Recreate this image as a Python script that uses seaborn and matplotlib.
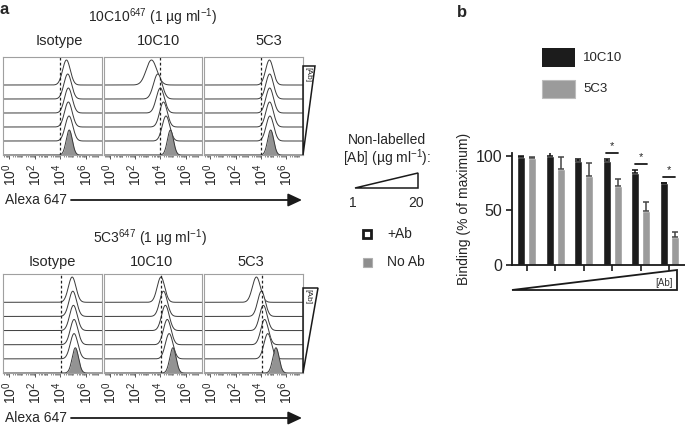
import numpy as np
import pandas as pd
import matplotlib
matplotlib.use('Agg')
import matplotlib.pyplot as plt
import seaborn as sns
from matplotlib.patches import Polygon, Rectangle

sns.set_theme(style='white')
plt.rcParams['font.family'] = ['Liberation Sans', 'DejaVu Sans']
plt.rcParams['mathtext.fontset'] = 'custom'
plt.rcParams['mathtext.rm'] = 'Liberation Sans'
plt.rcParams['mathtext.it'] = 'Liberation Sans:italic'
plt.rcParams['mathtext.bf'] = 'Liberation Sans:bold'

# ---- data ----
columns = ['Isotype', '10C10', '5C3']
titles = ['10C10$^{647}$ (1 µg ml$^{-1}$)', '5C3$^{647}$ (1 µg ml$^{-1}$)']
decade_ticks = [0, 2, 4, 6]
decade_labels = ['$10^0$', '$10^2$', '$10^4$', '$10^6$']

# histogram peak positions (log10 Alexa 647), top = highest [Ab], last = No Ab
iso_top = [4.5, 4.6, 4.65, 4.65, 4.7, 4.72]
c10_top = [3.3, 3.8, 4.0, 4.25, 4.45, 4.8]
c3_top = [4.68, 4.7, 4.7, 4.7, 4.72, 4.78]
iso_bot = [4.95, 5.0, 5.05, 5.1, 5.1, 5.2]
c10_bot = [4.05, 4.25, 4.4, 4.55, 4.7, 5.0]
c3_bot = [3.65, 4.05, 4.2, 4.3, 4.55, 5.2]
# histogram spreads (decades)
iso_top_sd = [0.3, 0.3, 0.3, 0.3, 0.3, 0.24]
c10_top_sd = [0.42, 0.34, 0.32, 0.3, 0.3, 0.24]
c3_top_sd = [0.3, 0.3, 0.3, 0.3, 0.3, 0.24]
iso_bot_sd = [0.3, 0.3, 0.3, 0.3, 0.3, 0.25]
c10_bot_sd = [0.3, 0.3, 0.3, 0.3, 0.3, 0.25]
c3_bot_sd = [0.32, 0.3, 0.3, 0.3, 0.3, 0.25]
gate_top = [4.0, 4.0, 4.0]
gate_bot = [4.1, 4.05, 4.1]

steps = [1, 2, 3, 4, 5, 6]
bind_10c10 = [99.5, 100, 95.5, 95.5, 84.5, 75]
err_10c10 = [0.8, 4, 1.5, 2, 3, 0.6]
bind_5c3 = [98.5, 88, 82, 72, 49.5, 25.5]
err_5c3 = [0.3, 10.7, 11.3, 7, 8.6, 4.6]
sig_steps = [3, 4, 5]
sig_level = [103, 92.5, 80.5]

W, H = 685, 425
fig = plt.figure(figsize=(6.85, 4.25), dpi=100)


def px_axes(x0, y0, x1, y1):
    return fig.add_axes([x0 / W, 1 - y1 / H, (x1 - x0) / W, (y1 - y0) / H])


XMIN, XMAX = -0.5, 7.3
grid = np.linspace(XMIN, XMAX, 500)
offsets = [70, 56, 42, 28, 14, 0]
peak_h = 25


def draw_hist(ax, peaks, sds, gate):
    for i, (pk, sd) in enumerate(zip(peaks, sds)):
        base = offsets[i]
        y = base + peak_h * np.exp(-0.5 * ((grid - pk) / sd) ** 2)
        last = i == len(peaks) - 1
        ax.fill_between(grid, base, y, color='#939393' if last else 'white',
                        lw=0, zorder=2 * i + 1)
        ax.plot(grid, y, color='#3a3a3a', lw=0.7, zorder=2 * i + 2)
    ax.axvline(gate, color='#222222', lw=0.9, ls=(0, (2.2, 1.8)), zorder=30)
    ax.set_xlim(XMIN, XMAX)
    ax.set_ylim(0, 98)
    ax.set_yticks([])
    ax.set_xticks(decade_ticks)
    ax.set_xticklabels(decade_labels, rotation=90, fontsize=10)
    minor = [n + np.log10(k) for n in range(-1, 8) for k in range(1, 10)]
    minor = [m for m in minor if XMIN < m < XMAX and m not in decade_ticks]
    ax.set_xticks(minor, minor=True)
    ax.tick_params(axis='x', which='major', length=3, width=0.7, color='#555555',
                   pad=3, bottom=True)
    ax.tick_params(axis='x', which='minor', length=1.5, width=0.6, color='#777777',
                   bottom=True)
    for s in ax.spines.values():
        s.set_color('#a0a0a0')
        s.set_linewidth(0.8)
        s.set_zorder(40)
    ax.grid(False)


col_x = [(3, 102), (103.5, 202), (204, 302.5)]
top_sets = [(iso_top, iso_top_sd), (c10_top, c10_top_sd), (c3_top, c3_top_sd)]
bot_sets = [(iso_bot, iso_bot_sd), (c10_bot, c10_bot_sd), (c3_bot, c3_bot_sd)]
for j, (x0, x1) in enumerate(col_x):
    ax = px_axes(x0, 57, x1, 155)
    draw_hist(ax, top_sets[j][0], top_sets[j][1], gate_top[j])
    ax = px_axes(x0, 274, x1, 373)
    draw_hist(ax, bot_sets[j][0], bot_sets[j][1], gate_bot[j])

# ---- panel b ----
axb = px_axes(512, 152.7, 685, 265)
df = pd.DataFrame({
    'step': steps * 2,
    'antibody': ['10C10'] * len(steps) + ['5C3'] * len(steps),
    'binding': bind_10c10 + bind_5c3,
})
sns.barplot(data=df, x='step', y='binding', hue='antibody',
            palette=['#1c1c1c', '#9b9b9b'], width=0.78, gap=0.26,
            errorbar=None, legend=False, ax=axb, saturation=1)
bars = axb.patches
xs = [b.get_x() + b.get_width() / 2 for b in bars]
hs = [b.get_height() for b in bars]
n = len(steps)
axb.errorbar(xs[:n], hs[:n], yerr=[np.zeros(n), err_10c10], fmt='none',
             ecolor='#111111', elinewidth=1.1, capsize=2.5, capthick=1.1)
axb.errorbar(xs[n:], hs[n:], yerr=[np.zeros(n), err_5c3], fmt='none',
             ecolor='#444444', elinewidth=1.1, capsize=2.5, capthick=1.1)
for st, lv in zip(sig_steps, sig_level):
    axb.plot([st - 0.21, st + 0.21], [lv, lv], color='k', lw=1.3, clip_on=False)
    axb.text(st, lv + 6.5, '*', ha='center', va='center', fontsize=8, clip_on=False)
axb.set_xlim(-0.52, 5.55)
axb.set_ylim(0, 103)
axb.set_yticks([0, 50, 100])
axb.set_xticks(range(n))
axb.set_xticklabels([''] * n)
axb.set_xlabel('')
axb.set_ylabel('Binding (% of maximum)', fontsize=10, labelpad=3)
axb.tick_params(axis='y', labelsize=11.5, length=4, width=1.2, color='k',
                left=True, pad=3)
axb.tick_params(axis='x', length=4, width=1.2, color='k', bottom=True)
sns.despine(ax=axb)
for s in ['left', 'bottom']:
    axb.spines[s].set_color('k')
    axb.spines[s].set_linewidth(1.3)
axb.grid(False)

# ---- overlay for annotations (pixel coordinates) ----
ov = fig.add_axes([0, 0, 1, 1])
ov.set_xlim(0, W)
ov.set_ylim(H, 0)
ov.axis('off')
ov.patch.set_alpha(0)

ov.text(4, 9, 'a', fontsize=12, fontweight='bold', ha='center', va='center')
ov.text(462, 12, 'b', fontsize=12, fontweight='bold', ha='center', va='center')
ov.text(153, 17, titles[0], fontsize=10, ha='center', va='center')
ov.text(150, 238, titles[1], fontsize=10, ha='center', va='center')
for xc, name in zip([59, 159, 269], columns):
    ov.text(xc, 41, name, fontsize=10.5, ha='center', va='center')
for xc, name in zip([52, 152, 251], columns):
    ov.text(xc, 262, name, fontsize=10.5, ha='center', va='center')

for yy in [200, 418]:
    ov.text(5, yy, 'Alexa 647', fontsize=10, ha='left', va='center')
    ov.annotate('', xy=(302, yy), xytext=(71, yy),
                arrowprops=dict(arrowstyle='-|>,head_length=0.6,head_width=0.28',
                                lw=1.3, color='k', mutation_scale=14,
                                shrinkA=0, shrinkB=0))

# [Ab] triangles next to the histograms
for (ytop, ybot, wd) in [(66, 155, 12), (288, 373, 15)]:
    ov.add_patch(Polygon([(303, ytop), (303 + wd, ytop), (303, ybot)], closed=True,
                         fill=False, ec='k', lw=1.1))
    ov.text(307.5, ytop + 9, '[Ab]', fontsize=6, rotation=-90,
            ha='center', va='center')

# middle legend
ov.text(387, 140, 'Non-labelled', fontsize=10, ha='center', va='center')
ov.text(387, 158, '[Ab] (µg ml$^{-1}$):', fontsize=10, ha='center', va='center')
ov.add_patch(Polygon([(355, 188), (418, 173), (418, 188)], closed=True,
                     fill=False, ec='k', lw=1.1))
ov.text(353, 203, '1', fontsize=10, ha='center', va='center')
ov.text(416, 203, '20', fontsize=10, ha='center', va='center')
ov.add_patch(Rectangle((363.5, 230), 8, 8, fc='white', ec='k', lw=2))
ov.text(387, 234, '+Ab', fontsize=10, ha='left', va='center')
ov.add_patch(Rectangle((363, 258), 9, 9, fc='#8e8e8e', ec='#b0b0b0', lw=0.8))
ov.text(387, 262.5, 'No Ab', fontsize=10, ha='left', va='center')

# panel b legend
ov.add_patch(Rectangle((542, 48), 33, 19, fc='#1c1c1c', ec='none'))
ov.text(583, 57.5, '10C10', fontsize=9.5, ha='left', va='center')
ov.add_patch(Rectangle((542, 80), 33, 18, fc='#9b9b9b', ec='#bdbdbd', lw=0.8))
ov.text(583, 89, '5C3', fontsize=9.5, ha='left', va='center')

# [Ab] triangle under panel b
ov.add_patch(Polygon([(512, 290), (677, 270), (677, 290)], closed=True,
                     fill=False, ec='k', lw=1.3))
ov.text(664, 283, '[Ab]', fontsize=7, ha='center', va='center', color='#333333')

fig.savefig('out.png', dpi=100)
